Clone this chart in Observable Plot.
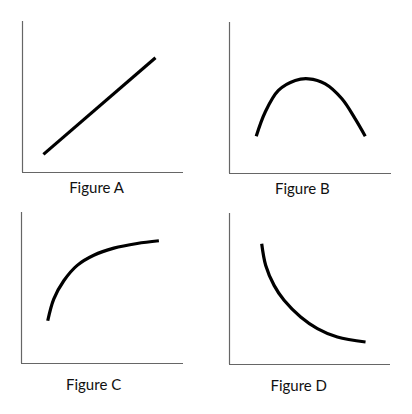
<!DOCTYPE html>
<html>
<head>
<meta charset="utf-8">
<script src="https://cdn.jsdelivr.net/npm/d3@7"></script>
<script src="https://cdn.jsdelivr.net/npm/@observablehq/plot@0.6"></script>
<style>
  html, body { margin: 0; padding: 0; background: #fff; }
  #wrap { position: relative; width: 412px; height: 414px; }
  #wrap > div { position: absolute; }
</style>
</head>
<body>
<div id="wrap"></div>
<script>
// Figure labels
const labels = ["Figure A", "Figure B", "Figure C", "Figure D"];

// Curve points (abstract units, axes run 0..10)
const aX = [1.3, 8.26];
const aY = [1.2, 7.6];

const bX = [1.65, 2.20, 3.02, 4.06, 4.88, 5.91, 6.94, 7.76, 8.38];
const bY = [2.47, 4.06, 5.50, 6.16, 6.27, 5.94, 4.95, 3.62, 2.47];

const cX = [1.62, 1.99, 2.61, 3.44, 4.46, 5.70, 7.14, 8.48];
const cY = [2.83, 4.26, 5.48, 6.50, 7.17, 7.64, 7.95, 8.13];

const dX = [2.00, 2.25, 2.77, 3.39, 4.42, 5.46, 6.70, 8.45];
const dY = [8.00, 6.56, 5.24, 4.25, 3.15, 2.38, 1.82, 1.49];

const panels = [
  {xs: aX, ys: aY, curve: "linear",      left: 0,   top: 0,   h: 207, m: [21, 23, 35, 22], labelX: 4.6,  labelDy: 9.7},
  {xs: bX, ys: bY, curve: "catmull-rom", left: 206, top: 0,   h: 207, m: [22, 21, 34, 23], labelX: 4.5,  labelDy: 9.7},
  {xs: cX, ys: cY, curve: "catmull-rom", left: 0,   top: 207, h: 207, m: [5, 23, 51, 21],  labelX: 4.45, labelDy: 15.7},
  {xs: dX, ys: dY, curve: "catmull-rom", left: 206, top: 207, h: 207, m: [6, 22, 50, 23],  labelX: 4.3,  labelDy: 15.7}
];

const wrap = document.getElementById("wrap");
panels.forEach((p, i) => {
  const data = p.xs.map((x, j) => ({x, y: p.ys[j]}));
  const chart = Plot.plot({
    width: 206,
    height: p.h,
    marginTop: p.m[0],
    marginRight: p.m[1],
    marginBottom: p.m[2],
    marginLeft: p.m[3],
    x: {domain: [0, 10], axis: null},
    y: {domain: [0, 10], axis: null},
    style: {background: "transparent", overflow: "visible"},
    marks: [
      Plot.ruleX([0], {stroke: "#666", strokeWidth: 1.2}),
      Plot.ruleY([0], {stroke: "#666", strokeWidth: 1.2}),
      Plot.line(data, {x: "x", y: "y", curve: p.curve, stroke: "#000", strokeWidth: 3.2, strokeLinecap: "butt"}),
      Plot.text([labels[i]], {
        x: () => p.labelX,
        frameAnchor: "bottom",
        dy: p.labelDy,
        lineAnchor: "top",
        text: d => d,
        fontSize: 15,
        fontFamily: "Lato",
        fill: "#111"
      })
    ]
  });
  const holder = document.createElement("div");
  holder.style.left = p.left + "px";
  holder.style.top = p.top + "px";
  holder.appendChild(chart);
  wrap.appendChild(holder);
});
</script>
</body>
</html>
